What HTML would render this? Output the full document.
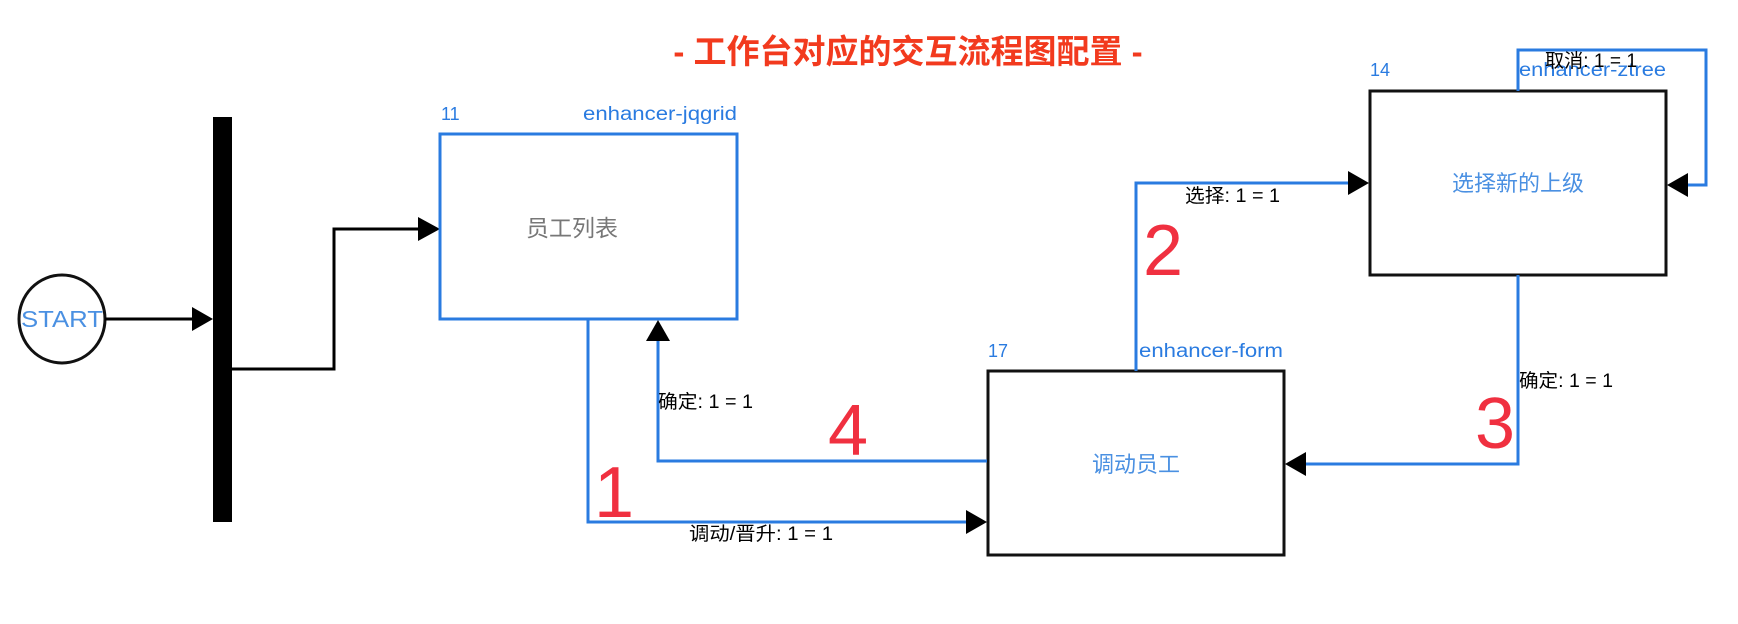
<!DOCTYPE html>
<html><head><meta charset="utf-8"><style>
html,body{margin:0;padding:0;background:#fff;}
svg{display:block;}
text{font-family:"Liberation Sans","Noto Sans CJK SC",sans-serif;}
</style></head><body>
<svg width="1738" height="624" viewBox="0 0 1738 624" xmlns="http://www.w3.org/2000/svg">
<text x="908" y="63" font-size="33" font-weight="bold" fill="#f23a1e" text-anchor="middle">- 工作台对应的交互流程图配置 -</text>

<!-- start -->
<ellipse cx="62" cy="319" rx="43" ry="44" fill="#fff" stroke="#111" stroke-width="3"/>
<text x="21" y="327" font-size="23" fill="#4a90e2" textLength="82" lengthAdjust="spacingAndGlyphs">START</text>
<line x1="105" y1="319" x2="196" y2="319" stroke="#000" stroke-width="3"/>
<polygon points="192,307 213,319 192,331" fill="#000"/>
<rect x="213" y="117" width="19" height="405" fill="#000"/>
<polyline points="232,369 334,369 334,229 420,229" fill="none" stroke="#000" stroke-width="3"/>
<polygon points="418,217 440,229 418,241" fill="#000"/>

<!-- box 11 -->
<rect x="440" y="134" width="297" height="185" fill="#fff" stroke="#2a7be0" stroke-width="3"/>
<text x="441" y="120" font-size="18" fill="#2a7be0">11</text>
<text x="583" y="120" font-size="19" fill="#2a7be0" textLength="154" lengthAdjust="spacingAndGlyphs">enhancer-jqgrid</text>
<text x="572" y="236" font-size="23" fill="#777" text-anchor="middle">员工列表</text>

<!-- box 17 -->
<rect x="988" y="371" width="296" height="184" fill="#fff" stroke="#111" stroke-width="3"/>
<text x="988" y="357" font-size="18" fill="#2a7be0">17</text>
<text x="1139" y="357" font-size="19" fill="#2a7be0" textLength="144" lengthAdjust="spacingAndGlyphs">enhancer-form</text>
<text x="1136" y="472" font-size="22" fill="#4a90e2" text-anchor="middle">调动员工</text>

<!-- box 14 -->
<rect x="1370" y="91" width="296" height="184" fill="#fff" stroke="#111" stroke-width="3"/>
<text x="1370" y="76" font-size="18" fill="#2a7be0">14</text>
<text x="1519" y="76" font-size="19" fill="#2a7be0" textLength="147" lengthAdjust="spacingAndGlyphs">enhancer-ztree</text>
<text x="1518" y="191" font-size="22" fill="#4a90e2" text-anchor="middle">选择新的上级</text>

<!-- connector 1 -->
<polyline points="588,319 588,522 968,522" fill="none" stroke="#2a7be0" stroke-width="3"/>
<polygon points="966,510 987,522 966,534" fill="#000"/>
<text x="689" y="540" font-size="19" fill="#000" textLength="144" lengthAdjust="spacingAndGlyphs">调动/晋升: 1 = 1</text>
<text x="614" y="517" font-size="72" fill="#f03040" text-anchor="middle">1</text>

<!-- connector 4 -->
<polyline points="987,461 658,461 658,340" fill="none" stroke="#2a7be0" stroke-width="3"/>
<polygon points="646,341 658,320 670,341" fill="#000"/>
<text x="658" y="408" font-size="19" fill="#000" textLength="95" lengthAdjust="spacingAndGlyphs">确定: 1 = 1</text>
<text x="848" y="455" font-size="72" fill="#f03040" text-anchor="middle">4</text>

<!-- connector 2 -->
<polyline points="1136,371 1136,183 1350,183" fill="none" stroke="#2a7be0" stroke-width="3"/>
<polygon points="1348,171 1369,183 1348,195" fill="#000"/>
<text x="1185" y="202" font-size="19" fill="#000" textLength="95" lengthAdjust="spacingAndGlyphs">选择: 1 = 1</text>
<text x="1163" y="275" font-size="72" fill="#f03040" text-anchor="middle">2</text>

<!-- connector 3 -->
<polyline points="1518,275 1518,464 1305,464" fill="none" stroke="#2a7be0" stroke-width="3"/>
<polygon points="1306,452 1285,464 1306,476" fill="#000"/>
<text x="1519" y="387" font-size="19" fill="#000" textLength="94" lengthAdjust="spacingAndGlyphs">确定: 1 = 1</text>
<text x="1495" y="448" font-size="72" fill="#f03040" text-anchor="middle">3</text>

<!-- self loop -->
<polyline points="1518,91 1518,50 1706,50 1706,185 1687,185" fill="none" stroke="#2a7be0" stroke-width="3"/>
<polygon points="1688,173 1667,185 1688,197" fill="#000"/>
<text x="1545" y="67" font-size="19" fill="#000" textLength="92" lengthAdjust="spacingAndGlyphs">取消: 1 = 1</text>
</svg>
</body></html>
